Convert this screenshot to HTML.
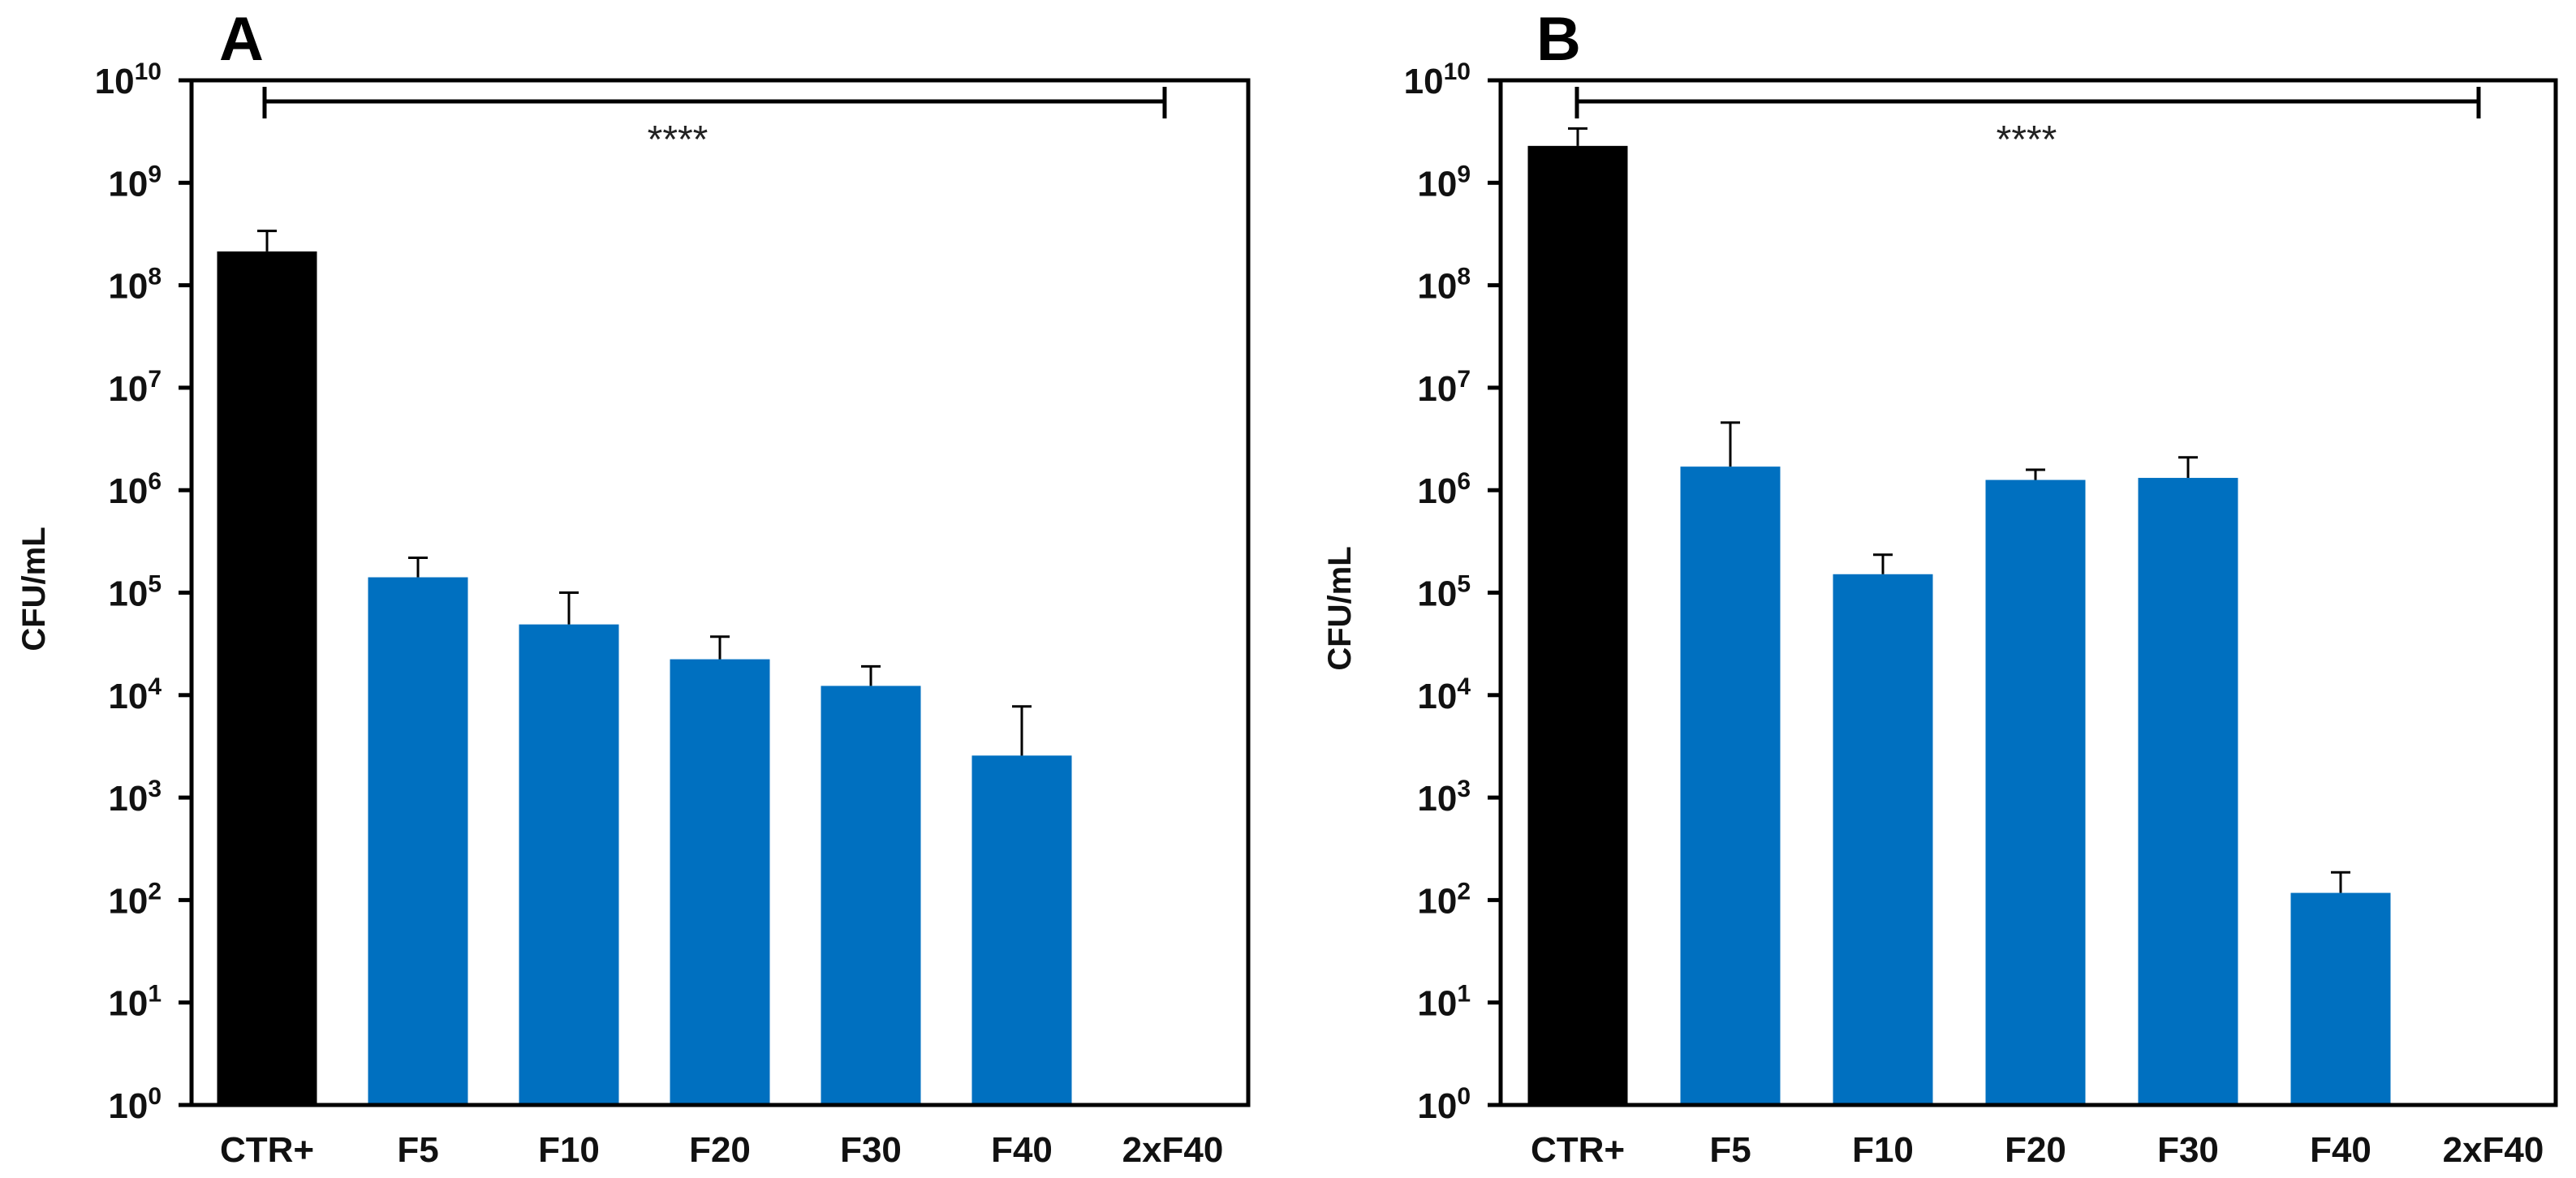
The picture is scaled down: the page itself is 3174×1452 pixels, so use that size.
<!DOCTYPE html>
<html><head><meta charset="utf-8"><style>
html,body{margin:0;padding:0;background:#fff;}
svg{display:block;font-family:"Liberation Sans",Arial,sans-serif;font-weight:bold;}
</style></head><body>
<svg id="chart" width="3174" height="1452" viewBox="0 0 3174 1452" xmlns="http://www.w3.org/2000/svg"></svg>
<script>
const categories = ["CTR+","F5","F10","F20","F30","F40","2xF40"];
const logValuesA = [8.33,5.15,4.69,4.35,4.09,3.41,null];
const logErrA = [8.53,5.34,5.00,4.57,4.28,3.89,null];
const logValuesB = [9.36,6.23,5.18,6.10,6.12,2.07,null];
const logErrB = [9.53,6.66,5.37,6.20,6.32,2.27,null];
const tickExps = [0,1,2,3,4,5,6,7,8,9,10];

const NS="http://www.w3.org/2000/svg";
const svg=document.getElementById('chart');
function mk(tag,attrs,parent){const e=document.createElementNS(NS,tag);for(const k in attrs)e.setAttribute(k,attrs[k]);(parent||svg).appendChild(e);return e;}

function panel(cfg){
  const g=mk('g',{});
  
  
  const top=99,bottom=1362,left=cfg.left,right=cfg.right;
  const y=v=>bottom-(v/10)*(bottom-top);
  const x=i=>cfg.c0+i*cfg.step;
  categories.forEach((c,i)=>{
    const v=cfg.vals[i]; if(v==null) return;
    const r=mk('rect',{x:x(i)-cfg.bw/2,y:y(v),width:cfg.bw,height:bottom-y(v),fill:i===0?'#000':'#0070C0'},g);
    
    
    const e=cfg.errs[i];
    const eb=mk('path',{d:`M${x(i)} ${y(v)} V${y(e)} M${x(i)-12} ${y(e)} H${x(i)+12}`,stroke:'#000','stroke-width':3,fill:'none'},g);
    
    
  });
  const box=mk('rect',{x:left,y:top,width:right-left,height:bottom-top,fill:'none',stroke:'#000','stroke-width':5},g);
  
  
  tickExps.forEach(t=>{
    const ty=y(t);
    const tk=mk('line',{x1:left-16,x2:left,y1:ty,y2:ty,stroke:'#000','stroke-width':5},g);
    
    
    const tx=mk('text',{x:left-37,y:ty+16,'text-anchor':'end','font-size':44,fill:'#111'},g);
    
    
    tx.textContent='10';
    const sup=mk('tspan',{dy:-17,'font-size':30},tx);
    sup.textContent=String(t);
  });
  categories.forEach((c,i)=>{
    const t=mk('text',{x:x(i),y:1432,'text-anchor':'middle','font-size':44,fill:'#111'},g);
    
    
    t.textContent=c;
  });
  const yt=mk('text',{x:0,y:0,transform:`translate(${cfg.ytx},${cfg.yty}) rotate(-90)`,'text-anchor':'middle','font-size':40,fill:'#111'},g);
  
  
  yt.textContent='CFU/mL';
  const L=mk('text',{x:cfg.lx,y:74,'font-size':76,fill:'#000'},g);
  
  
  L.textContent=cfg.letter;
  const br=mk('path',{d:`M${cfg.b1} 107 V146 M${cfg.b1} 125 H${cfg.b2} M${cfg.b2} 107 V146`,stroke:'#000','stroke-width':5,fill:'none'},g);
  
  
  const st=mk('text',{x:cfg.sx,y:188,'text-anchor':'middle','font-size':48,'font-weight':'normal',fill:'#222'},g);
  
  
  st.textContent='****';
}
panel({letter:'A',left:236,right:1538,c0:329,step:186,bw:123,vals:logValuesA,errs:logErrA,ytx:55,yty:726,lx:270,b1:326,b2:1435,sx:835});
panel({letter:'B',left:1849,right:3149,c0:1944,step:188,bw:123,vals:logValuesB,errs:logErrB,ytx:1664,yty:750,lx:1893,b1:1943,b2:3054,sx:2497});
</script>
</body></html>
